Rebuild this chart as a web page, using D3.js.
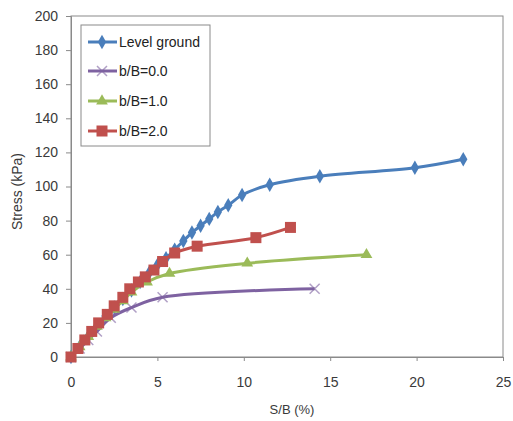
<!DOCTYPE html>
<html>
<head>
<meta charset="utf-8">
<script src="https://cdn.jsdelivr.net/npm/d3@7"></script>
<style>
  body { margin: 0; background: #fff; }
  text { font-family: "Liberation Sans", Arial, sans-serif; }
</style>
</head>
<body>
<div id="chart"></div>
<script>
// S/B (%) and stress (kPa)
const levelX = [0, 0.5, 1, 1.5, 2, 2.5, 3, 3.5, 4, 4.5, 5, 5.5, 6, 6.5, 7, 7.5, 8, 8.5, 9.1, 9.9, 11.5, 14.4, 19.9, 22.7];
const levelY = [0, 6, 12, 18, 24, 29, 34, 39, 44, 49, 54, 58, 63, 68, 73, 77, 81, 85, 89, 95, 101, 106, 111, 116];

const b0X = [0, 0.5, 1, 1.5, 2.3, 3.5, 5.3, 14.1];
const b0Y = [0, 5, 10, 15, 23, 29, 35, 40];

const b1X = [0, 0.5, 1, 1.5, 2, 2.5, 3, 3.5, 4.4, 5.7, 10.2, 17.1];
const b1Y = [0, 6, 12, 18, 23, 28, 33, 38, 44, 49, 55, 60];

const b2X = [0, 0.4, 0.8, 1.2, 1.6, 2.1, 2.5, 3, 3.4, 3.9, 4.3, 4.8, 5.3, 6.0, 7.3, 10.7, 12.7];
const b2Y = [0, 5, 10, 15, 20, 25, 30, 35, 40, 44, 47, 51, 56, 61, 65, 70, 76];

const seriesNames = ["Level ground", "b/B=0.0", "b/B=1.0", "b/B=2.0"];
const xTicks = [0, 5, 10, 15, 20, 25];
const yTicks = [0, 20, 40, 60, 80, 100, 120, 140, 160, 180, 200];

const width = 513, height = 421;
const pLeft = 71, pRight = 503, pTop = 16, pBottom = 357;

const series = [
  { name: seriesNames[0], xs: levelX, ys: levelY, color: "#4a7ebb", symbol: "diamond" },
  { name: seriesNames[1], xs: b0X, ys: b0Y, color: "#7e62a1", symbol: "cross" },
  { name: seriesNames[2], xs: b1X, ys: b1Y, color: "#9bbb59", symbol: "triangle" },
  { name: seriesNames[3], xs: b2X, ys: b2Y, color: "#c0504d", symbol: "square" }
];

const x = d3.scaleLinear().domain([0, 25]).range([pLeft, pRight]);
const y = d3.scaleLinear().domain([0, 200]).range([pBottom, pTop]);

const svg = d3.select("#chart").append("svg")
  .attr("width", width)
  .attr("height", height);

// plot frame
svg.append("rect")
  .attr("x", pLeft).attr("y", pTop)
  .attr("width", pRight - pLeft).attr("height", pBottom - pTop)
  .attr("fill", "none").attr("stroke", "#8a8a8a").attr("stroke-width", 1);

const yAxis = svg.append("g")
  .attr("transform", `translate(${pLeft},0)`)
  .call(d3.axisLeft(y).tickValues(yTicks).tickSize(5).tickPadding(8));

const xAxis = svg.append("g")
  .attr("transform", `translate(0,${pBottom})`)
  .call(d3.axisBottom(x).tickValues(xTicks).tickSize(4).tickPadding(16));

[xAxis, yAxis].forEach(g => {
  g.select(".domain").attr("stroke", "#8a8a8a");
  g.selectAll(".tick line").attr("stroke", "#8a8a8a");
  g.selectAll(".tick text")
    .attr("fill", "#3a3a3a")
    .style("font-size", "14px");
});

svg.append("text")
  .attr("transform", `translate(22,${(pTop + pBottom) / 2 + 5}) rotate(-90)`)
  .attr("text-anchor", "middle")
  .attr("fill", "#3a3a3a")
  .style("font-size", "14px")
  .text("Stress (kPa)");

svg.append("text")
  .attr("x", 292).attr("y", 414)
  .attr("text-anchor", "middle")
  .attr("fill", "#3a3a3a")
  .style("font-size", "13px")
  .text("S/B (%)");

function marker(g, s, cx, cy) {
  if (s.symbol === "diamond") {
    g.append("path")
      .attr("d", d3.symbol(d3.symbolDiamond, 60)())
      .attr("transform", `translate(${cx},${cy})`)
      .attr("fill", s.color);
  } else if (s.symbol === "square") {
    g.append("rect")
      .attr("x", cx - 5.5).attr("y", cy - 5.5)
      .attr("width", 11).attr("height", 11)
      .attr("fill", s.color);
  } else if (s.symbol === "triangle") {
    g.append("path")
      .attr("d", d3.symbol(d3.symbolTriangle, 60)())
      .attr("transform", `translate(${cx},${cy})`)
      .attr("fill", s.color);
  } else {
    g.append("path")
      .attr("d", `M${cx - 5},${cy - 5}L${cx + 5},${cy + 5}M${cx - 5},${cy + 5}L${cx + 5},${cy - 5}`)
      .attr("stroke", s.color).attr("stroke-width", 1.5).attr("opacity", 0.6);
  }
}

const line = d3.line()
  .x(d => x(d[0]))
  .y(d => y(d[1]))
  .curve(d3.curveCatmullRom.alpha(0.5));

// draw in order so red ends up on top
series.forEach(s => {
  const pts = s.xs.map((v, i) => [v, s.ys[i]]);
  const g = svg.append("g");
  g.append("path")
    .attr("d", line(pts))
    .attr("fill", "none")
    .attr("stroke", s.color)
    .attr("stroke-width", 3);
  pts.forEach(p => marker(g, s, x(p[0]), y(p[1])));
});

// legend
const lg = svg.append("g");
lg.append("rect")
  .attr("x", 81).attr("y", 25)
  .attr("width", 129).attr("height", 121)
  .attr("fill", "#fff").attr("stroke", "#8a8a8a");

const legendY = [42, 71, 101, 131];
series.forEach((s, i) => {
  const ly = legendY[i];
  lg.append("line")
    .attr("x1", 88).attr("x2", 117)
    .attr("y1", ly).attr("y2", ly)
    .attr("stroke", s.color).attr("stroke-width", 3);
  marker(lg, s, 102, ly);
  lg.append("text")
    .attr("x", 119).attr("y", ly + 5)
    .attr("fill", "#222")
    .style("font-size", "14px")
    .text(s.name);
});
</script>
</body>
</html>
